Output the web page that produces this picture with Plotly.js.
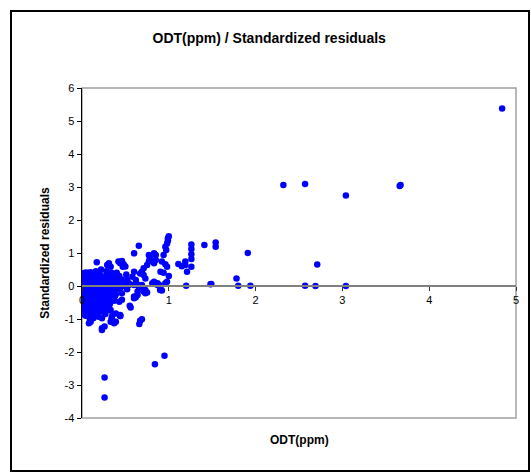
<!DOCTYPE html>
<html>
<head>
<meta charset="utf-8">
<script src="https://cdn.plot.ly/plotly-3.0.1.min.js"></script>
<style>
  html, body { margin: 0; padding: 0; background: #fff; }
  #chart { width: 531px; height: 474px; }
</style>
</head>
<body>
<div id="chart"></div>
<script>
// ODT (ppm) values, read group by group from the picture
const odtX = [
  0.01,0.02,0.01,0.00,0.02,0.01,0.00,0.02,0.01,0.02,0.00,0.01,0.02,0.01,0.02,0.01,
  0.04,0.03,0.05,0.04,0.03,0.05,0.04,0.03,0.05,0.04,0.03,0.05,0.04,0.03,0.05,0.04,0.04,
  0.07,0.06,0.08,0.07,0.06,0.08,0.07,0.06,0.08,0.07,0.06,0.08,0.07,0.06,0.08,0.09,0.08,
  0.10,0.09,0.11,0.10,0.09,0.11,0.10,0.09,0.11,0.10,0.09,0.11,0.10,0.11,0.12,0.10,
  0.13,0.12,0.14,0.13,0.12,0.14,0.13,0.12,0.14,0.13,0.12,0.14,0.13,0.14,0.13,
  0.16,0.15,0.17,0.16,0.15,0.17,0.16,0.15,0.17,0.16,0.15,0.17,0.16,0.17,
  0.17,0.19,0.18,0.20,0.19,0.18,0.20,0.19,0.18,0.20,0.19,0.18,0.20,0.19,
  0.22,0.21,0.23,0.22,0.21,0.23,0.22,0.21,0.23,0.22,0.21,0.23,0.23,0.23,
  0.25,0.24,0.26,0.25,0.24,0.26,0.25,0.24,0.26,0.25,0.24,0.26,0.23,
  0.29,0.28,0.27,0.29,0.28,0.27,0.29,0.28,0.27,0.29,0.28,0.27,
  0.31,0.33,0.30,0.32,0.31,0.30,0.32,0.31,0.30,0.32,0.31,
  0.34,0.33,0.35,0.34,0.33,0.35,0.34,0.33,0.35,0.34,0.33,0.35,
  0.37,0.36,0.38,0.37,0.36,0.38,0.37,0.37,
  0.40,0.39,0.41,0.40,0.39,0.39,0.39,
  0.42,0.44,0.43,0.42,0.44,0.43,0.44,0.44,
  0.46,0.48,0.47,0.46,0.48,0.46,0.46,
  0.50,0.51,0.49,0.52,0.52,0.54,
  0.655,0.60,0.83,0.85,0.77,0.94,0.78,0.79,0.77,0.75,0.71,0.69,0.67,
  0.60,0.58,0.62,0.71,0.73,0.83,0.87,0.89,0.54,0.60,0.66,0.69,0.73,0.71,0.64,
  0.90,0.92,0.905,0.62,0.64,0.60,0.56,0.55,0.69,0.66,0.67,0.62,0.655,0.69,0.81,0.87,0.96,
  0.73,0.75,0.60,0.44,0.85,0.83,0.92,0.96,0.98,0.905,0.94,1.00,0.98,
  1.00,0.99,0.99,0.98,0.96,0.97,
  1.11,1.15,1.19,1.19,1.21,1.20,1.26,1.26,1.26,1.26,1.26,1.41,1.54,1.54,1.48,1.49,
  1.78,1.80,1.91,1.94,2.32,2.57,2.57,2.69,2.71,3.04,3.04,3.66,3.67,4.84,0.26,0.26,0.84,0.95
];

// Standardized residuals, same order as odtX
const residY = [
  0.38,0.30,0.22,0.15,0.08,0.02,-0.05,-0.12,-0.20,-0.28,-0.35,-0.45,-0.55,-0.62,-0.72,-0.85,
  0.41,0.33,0.25,0.18,0.10,0.04,-0.03,-0.10,-0.18,-0.26,-0.33,-0.42,-0.50,-0.60,-0.70,-0.80,-0.90,
  0.40,0.30,0.20,0.12,0.05,-0.02,-0.09,-0.17,-0.25,-0.35,-0.44,-0.53,-0.65,-0.75,-0.88,-1.00,-1.13,
  0.42,0.32,0.22,0.13,0.06,-0.04,-0.12,-0.21,-0.30,-0.40,-0.50,-0.60,-0.71,-0.82,-0.95,-1.08,
  0.30,0.22,0.15,0.09,0.00,-0.08,-0.18,-0.27,-0.37,-0.48,-0.58,-0.70,-0.80,-0.88,-0.98,
  0.45,0.35,0.24,0.14,0.05,-0.05,-0.15,-0.25,-0.34,-0.45,-0.56,-0.66,-0.78,-0.90,
  0.72,0.40,0.30,0.20,0.10,0.02,-0.10,-0.20,-0.30,-0.42,-0.52,-0.63,-0.76,-0.93,
  0.50,0.33,0.22,0.12,0.03,-0.07,-0.17,-0.28,-0.40,-0.50,-0.62,-0.75,-0.98,-1.28,
  0.28,0.20,0.12,0.05,-0.05,-0.16,-0.26,-0.38,-0.50,-0.62,-0.78,-1.23,-1.33,
  0.64,0.45,0.22,0.10,0.00,-0.10,-0.22,-0.33,-0.45,-0.58,-0.70,-0.85,
  0.69,0.58,0.30,0.18,0.08,-0.03,-0.15,-0.28,-0.40,-0.55,-0.72,
  0.40,0.25,0.12,0.00,-0.12,-0.25,-0.40,-0.73,-0.88,-0.98,-1.08,-1.03,
  0.32,0.20,0.08,-0.05,-0.18,-0.30,-0.45,-1.13,
  0.40,0.22,0.05,-0.10,-0.25,-0.83,-1.08,
  0.74,0.69,0.30,0.10,-0.06,-0.48,-0.88,-0.91,
  0.76,0.66,0.58,0.20,0.00,-0.22,-0.42,
  0.59,0.35,0.12,-0.10,0.18,0.03,
  1.22,0.99,0.99,0.94,0.94,0.94,0.84,0.82,0.74,0.64,0.54,0.43,0.38,
  0.43,0.28,0.18,0.33,0.23,0.13,0.08,0.03,0.08,0.03,0.03,-0.07,-0.12,-0.17,-0.17,
  -0.12,-0.14,-0.07,-0.34,-0.27,-0.37,-0.65,-0.60,-1.01,-1.15,-1.05,0.08,-0.02,0.03,0.08,0.03,0.08,
  -0.22,-0.20,-0.32,-0.91,0.79,0.69,0.74,0.66,0.58,0.43,0.40,0.30,0.13,
  1.51,1.45,1.38,1.29,1.19,1.09,
  0.67,0.60,0.74,0.64,0.43,0.01,1.26,1.12,0.96,0.82,0.58,1.24,1.32,1.19,0.05,0.06,
  0.23,0.01,1.00,0.01,3.06,3.09,0.01,0.00,0.65,2.74,0.00,3.03,3.06,5.38,-2.77,-3.38,-2.37,-2.11
];

const chartTitle = 'ODT(ppm) / Standardized residuals';
const xTitle = 'ODT(ppm)';
const yTitle = 'Standardized residuals';
const xTicks = [0, 1, 2, 3, 4, 5];
const yTicks = [-4, -3, -2, -1, 0, 1, 2, 3, 4, 5, 6];

const FONT = 'Liberation Sans, Arial, Helvetica, sans-serif';

const trace = {
  type: 'scatter',
  mode: 'markers',
  x: odtX,
  y: residY,
  marker: { color: '#0000FF', size: 6.5, line: { width: 0 } },
  hoverinfo: 'x+y',
  showlegend: false
};

const layout = {
  width: 531,
  height: 474,
  margin: { l: 82, r: 15, t: 88, b: 56 },
  paper_bgcolor: '#ffffff',
  plot_bgcolor: '#ffffff',
  font: { family: FONT, size: 11, color: '#000' },
  title: {
    text: '<b>' + chartTitle + '</b>',
    font: { family: FONT, size: 14, color: '#000' },
    x: 0.507, xref: 'container', xanchor: 'center',
    y: 1 - 38 / 474, yref: 'container', yanchor: 'middle'
  },
  xaxis: {
    range: [0, 5],
    tickvals: xTicks,
    ticktext: xTicks.map(String),
    anchor: 'free',
    position: 0.4,
    showline: true,
    linecolor: '#808080',
    linewidth: 2,
    ticks: 'outside',
    ticklen: 4,
    tickcolor: '#333',
    tickwidth: 1,
    showgrid: false,
    zeroline: false,
    tickfont: { family: FONT, size: 11, color: '#000' },
    fixedrange: true
  },
  xaxis2: {
    overlaying: 'x',
    range: [0, 5],
    tickvals: xTicks,
    anchor: 'free',
    position: 0.4,
    showline: false,
    ticks: 'inside',
    ticklen: 4,
    tickcolor: '#333',
    showticklabels: false,
    showgrid: false,
    zeroline: false
  },
  yaxis: {
    range: [-4, 6],
    tickvals: yTicks,
    ticktext: yTicks.map(String),
    showline: true,
    linecolor: '#000',
    linewidth: 1.5,
    ticks: 'outside',
    ticklen: 4,
    tickcolor: '#000',
    showgrid: false,
    zeroline: false,
    tickfont: { family: FONT, size: 11, color: '#000' },
    title: {
      text: '<b>' + yTitle + '</b>',
      font: { family: FONT, size: 12, color: '#000' },
      standoff: 12
    },
    fixedrange: true
  },
  shapes: [
    { type: 'rect', xref: 'paper', yref: 'paper', x0: 0, x1: 1, y0: 0, y1: 1,
      line: { color: '#a0a0a0', width: 1.5 }, layer: 'below' },
    { type: 'rect', xref: 'paper', yref: 'paper',
      x0: (11 - 82) / 434, x1: (529 - 82) / 434,
      y0: -(471 - 418) / 330, y1: 1 + (88 - 11) / 330,
      line: { color: '#000', width: 2 }, layer: 'above' }
  ],
  annotations: [
    { text: '<b>' + xTitle + '</b>', xref: 'paper', yref: 'paper',
      x: 0.5, y: -(440 - 418) / 330, xanchor: 'center', yanchor: 'middle',
      showarrow: false, font: { family: FONT, size: 12, color: '#000' } }
  ]
};

Plotly.newPlot('chart', [trace], layout, { displayModeBar: false, staticPlot: true });
</script>
</body>
</html>
